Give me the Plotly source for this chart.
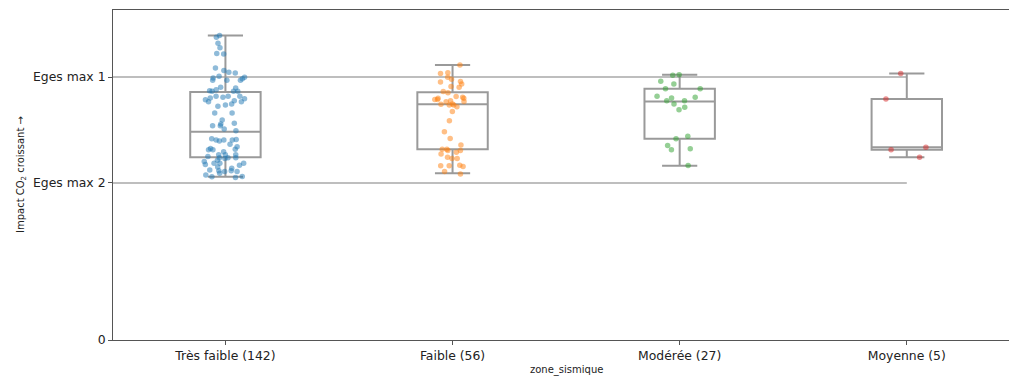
import plotly.graph_objects as go

# ---------------- data ----------------
categories = ["Très faible (142)", "Faible (56)", "Modérée (27)", "Moyenne (5)"]

eges_max_1 = 740
eges_max_2 = 442
ytick_vals = [0, eges_max_2, eges_max_1]
ytick_text = ["0", "Eges max 2", "Eges max 1"]

# box statistics
q1_vals = [514, 537, 566, 535]
median_vals = [586, 663, 671, 542]
q3_vals = [698, 697, 707, 678]
lower_vals = [459, 469, 490, 514]
upper_vals = [857, 774, 746, 750]

# individual observations (strip points)
pts_tres_faible = [857, 852, 835, 822, 805, 806, 765, 758, 751, 753, 742, 737, 739, 731,
                   735, 731, 709, 711, 704, 700, 700, 701, 681, 679, 670, 673, 683, 670,
                   664, 676, 686, 686, 661, 658, 639, 639, 619, 610, 603, 603, 594, 608,
                   589, 566, 564, 563, 563, 560, 551, 544, 535, 537, 539, 530, 535, 521,
                   513, 511, 513, 516, 521, 494, 497, 497, 502, 506, 487, 492, 483, 474,
                   476, 474, 476, 478, 469, 460, 457, 464, 459, 497, 513, 521, 563, 686,
                   700, 731]
pts_faible = [774, 750, 752, 739, 734, 726, 727, 720, 713, 711, 699, 696, 685, 677,
              683, 671, 680, 680, 677, 673, 670, 664, 661, 663, 656, 661, 643, 617,
              586, 567, 549, 533, 523, 537, 537, 528, 533, 511, 514, 511, 490, 488,
              492, 490, 474, 467]
pts_moderee = [746, 745, 728, 720, 707, 707, 686, 683, 673, 673, 681, 664, 655, 648,
               573, 566, 547, 535, 538, 491]
pts_moyenne = [750, 678, 542, 535, 514]

point_series = [pts_tres_faible, pts_faible, pts_moderee, pts_moyenne]
point_colors = ["#1f77b4", "#ff7f0e", "#2ca02c", "#d62728"]

FONT = "DejaVu Sans"
BOX_LINE = "#9a9a9a"

fig = go.Figure()

# boxes from precomputed statistics
fig.add_trace(go.Box(
    x=categories,
    q1=q1_vals, median=median_vals, q3=q3_vals,
    lowerfence=lower_vals, upperfence=upper_vals,
    boxpoints=False,
    width=0.31,
    whiskerwidth=0.5,
    fillcolor="white",
    line=dict(color=BOX_LINE, width=2),
    showlegend=False,
))

# jittered strip points
for cat, vals, col in zip(categories, point_series, point_colors):
    fig.add_trace(go.Box(
        x=[cat] * len(vals),
        y=vals,
        boxpoints="all",
        jitter=0.7,
        pointpos=0,
        width=0.31,
        fillcolor="rgba(0,0,0,0)",
        line=dict(width=0, color="rgba(0,0,0,0)"),
        marker=dict(color=col, size=5.5, opacity=0.5, line=dict(width=0)),
        showlegend=False,
    ))

# threshold lines
for v in [eges_max_1, eges_max_2]:
    fig.add_shape(type="line", xref="x", yref="y", x0=-0.5, x1=3, y0=v, y1=v,
                  line=dict(color="#a8a8a8", width=1.5), layer="below")

fig.update_layout(
    width=1009, height=378,
    margin=dict(l=113, r=0, t=10, b=38),
    paper_bgcolor="white", plot_bgcolor="white",
    font=dict(family=FONT, size=12, color="#222222"),
    boxmode="overlay",
    showlegend=False,
)

fig.update_xaxes(
    type="category",
    categoryorder="array", categoryarray=categories,
    range=[-0.495, 3.45],
    showline=True, linecolor="#555555", linewidth=1, mirror=True,
    ticks="outside", ticklen=4, tickcolor="#555555",
    showgrid=False, zeroline=False,
    tickfont=dict(family=FONT, size=12.4, color="#222222"),
)
fig.update_yaxes(
    range=[0, 928.5],
    tickvals=ytick_vals, ticktext=ytick_text,
    showline=True, linecolor="#555555", linewidth=1,
    ticks="outside", ticklen=4, tickcolor="#555555",
    showgrid=False, zeroline=False,
    tickfont=dict(family=FONT, size=12.4, color="#222222"),
)

fig.add_annotation(text="zone_sismique", xref="paper", yref="paper",
                   x=0.5056, y=0, yshift=-30, showarrow=False,
                   xanchor="center", yanchor="middle",
                   font=dict(family=FONT, size=10, color="#222222"))
fig.add_annotation(text="Impact CO<sub>2</sub> croissant →", xref="paper", yref="paper",
                   x=0, xshift=-92, y=0.5, showarrow=False, textangle=-90,
                   xanchor="center", yanchor="middle",
                   font=dict(family=FONT, size=10, color="#222222"))

fig.write_html(
    "out.html",
    config={"displayModeBar": False},
    post_script="document.body.style.margin='0';document.body.style.overflow='hidden';",
)
